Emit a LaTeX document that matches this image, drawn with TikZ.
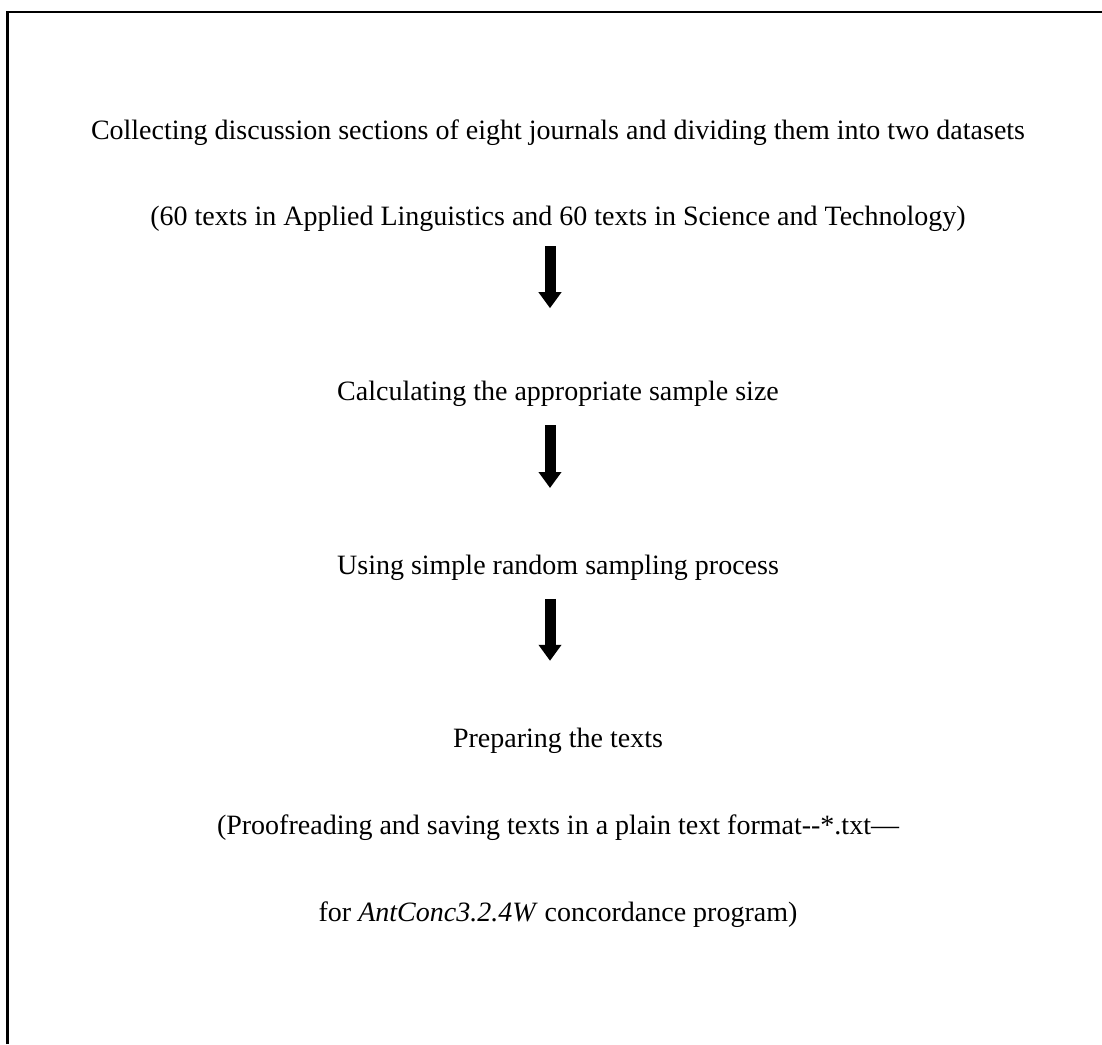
\documentclass[tikz,border=0pt]{standalone}
\usepackage{fontspec}
\setmainfont{Liberation Serif}
\usetikzlibrary{arrows.meta, positioning}
\tikzset{
  stepnode/.style={anchor=base, inner sep=0pt, text height=10pt, text depth=3.5pt,
    font=\fontsize{14}{16}\selectfont},
  downarrow/.style={-{Triangle[length=8pt, width=11pt]}, line width=5.5pt,
    shorten <=8.5pt, shorten >=33pt},
  frameline/.style={line width=1.2pt},
}
\begin{document}
\begin{tikzpicture}[x=0.5pt, y=0.5pt]
    \useasboundingbox (0,0) rectangle (1102,-1044);
    \draw[frameline] (7.5,-1044) -- (7.5,-12) -- (1102,-12);
    \node[stepnode] (collect) at (558,-139) {Collecting discussion sections of eight journals and dividing them into two datasets};
    \node[stepnode, below=29.5pt of collect] (split) {(60 texts in Applied Linguistics and 60 texts in Science and Technology)};
    \node[stepnode, below=73.5pt of split] (size) {Calculating the appropriate sample size};
    \node[stepnode, below=73pt of size] (sampling) {Using simple random sampling process};
    \node[stepnode, below=72.5pt of sampling] (prepare) {Preparing the texts};
    \node[stepnode, below=29.5pt of prepare] (proof) {(Proofreading and saving texts in a plain text format-{}-*.txt—};
    \node[stepnode, below=30pt of proof] (program) {for \textit{AntConc3.2.4W} concordance program)};
    \draw[downarrow, shorten <=6.5pt, shorten >=36pt] ([xshift=-4pt]split.south) -- ([xshift=-4pt]size.north);
    \draw[downarrow] ([xshift=-4pt]size.south) -- ([xshift=-4pt]sampling.north);
    \draw[downarrow] ([xshift=-4pt]sampling.south) -- ([xshift=-4pt]prepare.north);
\end{tikzpicture}
\end{document}
